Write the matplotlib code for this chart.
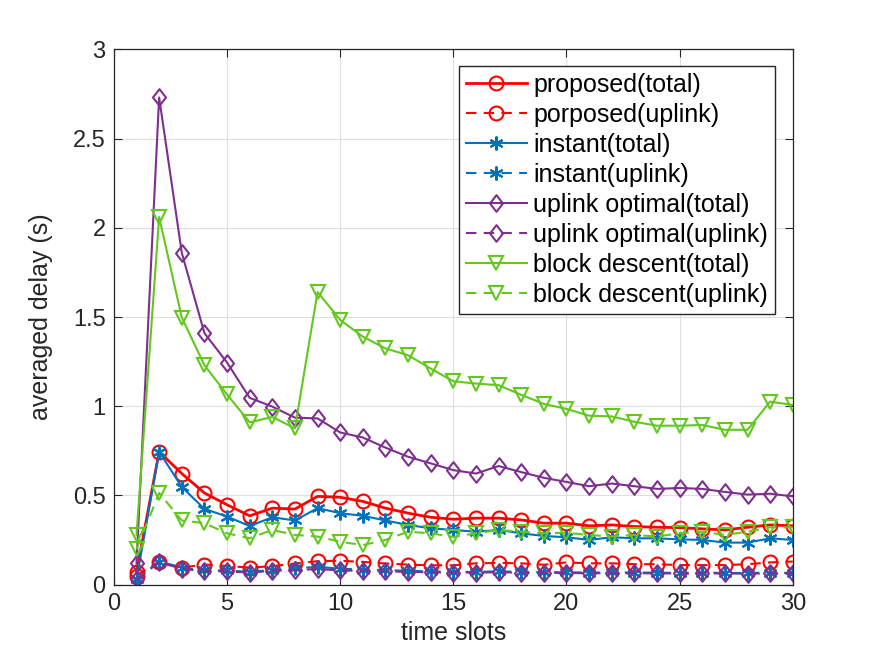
import matplotlib
matplotlib.use('Agg')
import matplotlib.pyplot as plt
from matplotlib.path import Path
import numpy as np

plt.rcParams['font.family'] = ['Liberation Sans', 'DejaVu Sans']

slots = np.arange(1, 31)

proposed_total = [0.07, 0.745, 0.623, 0.514, 0.448, 0.386, 0.429, 0.424, 0.495, 0.490,
                  0.467, 0.429, 0.401, 0.378, 0.367, 0.373, 0.373, 0.363, 0.345, 0.345,
                  0.330, 0.335, 0.326, 0.322, 0.320, 0.313, 0.307, 0.322, 0.335, 0.330]
proposed_uplink = [0.05, 0.13, 0.096, 0.113, 0.105, 0.096, 0.104, 0.119, 0.132, 0.134,
                   0.128, 0.119, 0.113, 0.109, 0.109, 0.120, 0.122, 0.120, 0.112, 0.125,
                   0.120, 0.120, 0.115, 0.115, 0.110, 0.110, 0.110, 0.115, 0.125, 0.130]
instant_total = [0.03, 0.745, 0.548, 0.425, 0.382, 0.329, 0.378, 0.360, 0.429, 0.401,
                 0.386, 0.360, 0.335, 0.316, 0.307, 0.297, 0.307, 0.288, 0.273, 0.266,
                 0.251, 0.266, 0.260, 0.260, 0.254, 0.251, 0.236, 0.236, 0.260, 0.251]
instant_uplink = [0.03, 0.13, 0.095, 0.080, 0.080, 0.072, 0.084, 0.092, 0.100, 0.090,
                  0.085, 0.082, 0.078, 0.075, 0.072, 0.072, 0.075, 0.072, 0.070, 0.070,
                  0.068, 0.070, 0.068, 0.068, 0.066, 0.068, 0.066, 0.066, 0.068, 0.066]
optimal_total = [0.12, 2.73, 1.86, 1.41, 1.245, 1.047, 0.998, 0.936, 0.932, 0.853,
                 0.825, 0.768, 0.717, 0.680, 0.642, 0.623, 0.665, 0.631, 0.599, 0.576,
                 0.552, 0.567, 0.552, 0.537, 0.542, 0.537, 0.520, 0.505, 0.510, 0.495]
optimal_uplink = [0.03, 0.125, 0.090, 0.075, 0.075, 0.068, 0.078, 0.082, 0.088, 0.080,
                  0.078, 0.075, 0.072, 0.070, 0.068, 0.068, 0.070, 0.068, 0.066, 0.066,
                  0.064, 0.065, 0.064, 0.064, 0.063, 0.064, 0.063, 0.062, 0.064, 0.063]
block_total = [0.28, 2.06, 1.497, 1.23, 1.066, 0.91, 0.94, 0.876, 1.64, 1.484,
               1.39, 1.324, 1.286, 1.211, 1.14, 1.127, 1.118, 1.064, 1.013, 0.985,
               0.947, 0.943, 0.913, 0.891, 0.891, 0.895, 0.868, 0.868, 1.026, 1.007]
block_uplink = [0.20, 0.514, 0.36, 0.345, 0.288, 0.26, 0.307, 0.279, 0.27, 0.241,
                0.222, 0.251, 0.297, 0.288, 0.268, 0.288, 0.307, 0.297, 0.288, 0.291,
                0.279, 0.27, 0.279, 0.27, 0.288, 0.297, 0.279, 0.297, 0.322, 0.322]

red = '#ff0000'
blue = '#0072bd'
purple = '#7e2f8e'
green = '#62c81e'
dash = (0, (5, 3.5))

# matlab-like diamond, a bit taller than wide
diamond = Path([(0, 1), (0.78, 0), (0, -1), (-0.78, 0), (0, 1)],
               [Path.MOVETO, Path.LINETO, Path.LINETO, Path.LINETO, Path.CLOSEPOLY])
asterisk = (6, 2, 0)

series = [
    (proposed_total, red, 'o', 10, '-', 2.0, 'proposed(total)'),
    (proposed_uplink, red, 'o', 10, dash, 1.5, 'porposed(uplink)'),
    (instant_total, blue, asterisk, 10, '-', 1.5, 'instant(total)'),
    (instant_uplink, blue, asterisk, 10, dash, 1.5, 'instant(uplink)'),
    (optimal_total, purple, diamond, 12, '-', 1.5, 'uplink optimal(total)'),
    (optimal_uplink, purple, diamond, 12, dash, 1.5, 'uplink optimal(uplink)'),
    (block_total, green, 'v', 10, '-', 1.5, 'block descent(total)'),
    (block_uplink, green, 'v', 10, dash, 1.5, 'block descent(uplink)'),
]

fig = plt.figure(figsize=(8.76, 6.57), dpi=100)
ax = fig.add_axes([0.13, 0.11, 0.775, 0.815])

for vals, col, mk, ms, ls, lw, lab in series:
    ax.plot(slots, vals, color=col, linestyle=ls, linewidth=lw, marker=mk,
            markersize=ms, markerfacecolor='none', markeredgecolor=col,
            markeredgewidth=1.5, label=lab)

ax.set_xlim(0, 30)
ax.set_ylim(0, 3)
ax.set_xticks([0, 5, 10, 15, 20, 25, 30])
ax.set_yticks([0, 0.5, 1, 1.5, 2, 2.5, 3])
ax.set_yticklabels(['0', '0.5', '1', '1.5', '2', '2.5', '3'])
ax.grid(True, color='#dedede', linewidth=0.8)
ax.set_axisbelow(True)
ax.tick_params(direction='in', top=True, right=True, length=6, width=0.8,
               labelsize=17, colors='#262626', pad=6)
for sp in ax.spines.values():
    sp.set_color('#262626')
    sp.set_linewidth(0.9)
ax.set_xlabel('time slots', fontsize=18, color='#262626')
ax.set_ylabel('averaged delay (s)', fontsize=18, color='#262626', labelpad=14)

leg = ax.legend(loc='upper right', bbox_to_anchor=(775 / 876, 1 - 66 / 657),
                bbox_transform=fig.transFigure, fontsize=18, frameon=True,
                fancybox=False, framealpha=1, edgecolor='#262626',
                handlelength=2.45, handletextpad=0.25, labelspacing=0.24,
                borderpad=0.28, borderaxespad=0)
leg.get_frame().set_linewidth(1.0)

fig.savefig('out.png', dpi=100)
